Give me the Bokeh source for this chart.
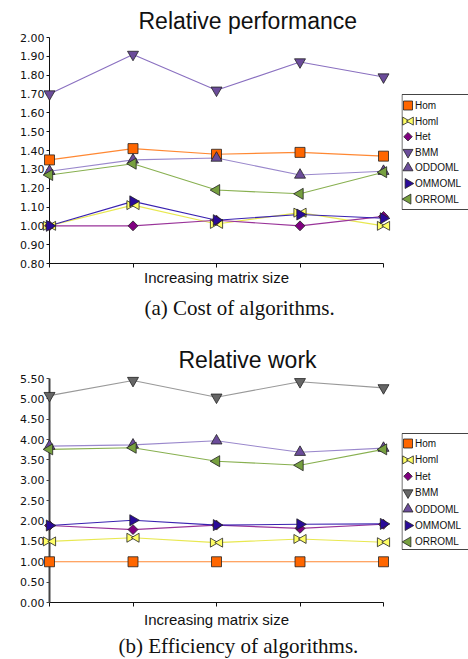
import math
from bokeh.plotting import figure
from bokeh.models import (Range1d, SingleIntervalTicker, NumeralTickFormatter, Title,
                          FixedTicker)
from bokeh.core.properties import value
from bokeh.layouts import column, row
from bokeh.embed import file_html
from bokeh.resources import INLINE

# ---------------- data ----------------
positions = [0, 1, 2, 3, 4]          # increasing matrix size (unlabelled)
series = ["Hom", "Homl", "Het", "BMM", "ODDOML", "OMMOML", "ORROML"]

perf_hom    = [1.35, 1.41, 1.38, 1.39, 1.37]
perf_homl   = [1.00, 1.11, 1.01, 1.07, 1.00]
perf_het    = [1.00, 1.00, 1.03, 1.00, 1.05]
perf_bmm    = [1.70, 1.91, 1.72, 1.87, 1.79]
perf_oddoml = [1.29, 1.35, 1.36, 1.27, 1.29]
perf_ommoml = [1.00, 1.13, 1.03, 1.06, 1.04]
perf_orroml = [1.27, 1.33, 1.19, 1.17, 1.285]

work_hom    = [1.00, 1.00, 1.00, 1.00, 1.00]
work_homl   = [1.50, 1.59, 1.47, 1.56, 1.48]
work_het    = [1.89, 1.79, 1.90, 1.82, 1.92]
work_bmm    = [5.08, 5.45, 5.04, 5.42, 5.27]
work_oddoml = [3.84, 3.87, 3.97, 3.69, 3.79]
work_ommoml = [1.89, 2.02, 1.90, 1.92, 1.93]
work_orroml = [3.76, 3.80, 3.47, 3.37, 3.76]

# ---------------- styles ----------------
OUT = "#222222"
style = {
    "Hom":    dict(line="#FF8833", fill="#FF6600", marker="square", angle=0.0, size=10),
    "Homl":   dict(line="#E8E850", fill="#FFFF66", marker="bowtie", angle=0.0, size=9),
    "Het":    dict(line="#993399", fill="#800080", marker="square", angle=math.pi / 4, size=7),
    "BMM":    dict(line="#8A70C0", fill="#6B4C9A", marker="inverted_triangle", angle=0.0, size=11),
    "ODDOML": dict(line="#9A88CC", fill="#6B4C9A", marker="triangle", angle=0.0, size=11),
    "OMMOML": dict(line="#3A22B0", fill="#2A0A99", marker="triangle", angle=-math.pi / 2, size=11),
    "ORROML": dict(line="#88B050", fill="#77A040", marker="triangle", angle=math.pi / 2, size=11),
}

FRAME_L, FRAME_W, MAIN_W, LEG_W = 49, 334, 401, 67
BOW_PX = 3.5   # half spacing of the two bow-tie triangles, in pixels


def add_markers(p, st, xs, ys, dx, level):
    if st["marker"] == "bowtie":
        p.scatter([x - dx for x in xs], ys, marker="triangle", angle=-math.pi / 2,
                  size=st["size"], fill_color=st["fill"], line_color=OUT, line_width=0.8,
                  level=level)
        p.scatter([x + dx for x in xs], ys, marker="triangle", angle=math.pi / 2,
                  size=st["size"], fill_color=st["fill"], line_color=OUT, line_width=0.8,
                  level=level)
    else:
        p.scatter(xs, ys, marker=st["marker"], angle=st["angle"], size=st["size"],
                  fill_color=st["fill"], line_color=OUT, line_width=0.8, level=level)


def make_fig(title, caption, xlabel, yr, interval, data, height, top, bottom,
             title_standoff, title_offset, cap_offset, bmm_line, bmm_fill,
             yaxis_color, yaxis_width, cap_standoff, xlab_standoff):
    p = figure(width=MAIN_W, height=height, x_range=Range1d(0, 4), y_range=Range1d(*yr),
               output_backend="svg", toolbar_location=None,
               min_border_left=FRAME_L, min_border_right=MAIN_W - FRAME_L - FRAME_W,
               min_border_top=top, min_border_bottom=bottom)
    p.grid.visible = False
    p.outline_line_color = None
    p.background_fill_color = "white"
    p.border_fill_color = "white"

    p.title.text = title
    p.title.align = "left"
    p.title.offset = title_offset
    p.title.text_font = "Liberation Sans"
    p.title.text_font_size = "23px"
    p.title.text_font_style = "normal"
    p.title.text_color = "#111111"
    p.title.standoff = title_standoff

    xa = p.xaxis[0]
    xa.ticker = FixedTicker(ticks=positions)
    xa.major_label_overrides = {i: "" for i in positions}
    xa.major_label_text_font_size = "8px"
    xa.major_label_standoff = 0
    xa.major_tick_out = 4
    xa.major_tick_in = 0
    xa.minor_tick_out = 0
    xa.minor_tick_in = 0
    xa.axis_line_color = "#111111"
    xa.axis_line_width = 1
    xa.major_tick_line_color = "#111111"
    xa.axis_label = xlabel
    xa.axis_label_text_font = "Liberation Sans"
    xa.axis_label_text_font_size = "15px"
    xa.axis_label_text_font_style = "normal"
    xa.axis_label_text_color = "#111111"
    xa.axis_label_standoff = xlab_standoff

    ya = p.yaxis[0]
    ya.ticker = SingleIntervalTicker(interval=interval, num_minor_ticks=0)
    ya.formatter = NumeralTickFormatter(format="0.00")
    ya.major_tick_out = 3
    ya.major_tick_in = 0
    ya.minor_tick_out = 0
    ya.minor_tick_in = 0
    ya.major_label_standoff = 2
    ya.major_label_text_font = "DejaVu Sans"
    ya.major_label_text_font_size = "11px"
    ya.major_label_text_color = "#111111"
    ya.axis_line_color = yaxis_color
    ya.axis_line_width = yaxis_width
    ya.major_tick_line_color = yaxis_color

    p.add_layout(Title(text=caption, align="left", offset=cap_offset,
                       text_font="Liberation Serif", text_font_size="21px",
                       text_font_style="normal", text_color="#111111",
                       standoff=cap_standoff), "below")

    dx = BOW_PX * 4 / FRAME_W
    for name in series:
        st = dict(style[name])
        if name == "BMM":
            st["line"], st["fill"] = bmm_line, bmm_fill
        vals = data[name]
        p.line(positions, vals, line_color=st["line"], line_width=1.1)
        add_markers(p, st, positions, vals, dx, "overlay")
    return p


def make_legend(height, top, bottom, box_top, box_bottom, first, pitch, bmm_fill):
    # frame identical to the main chart's frame; y measured in pixels from the figure top
    q = figure(width=LEG_W, height=height, x_range=Range1d(0, LEG_W),
               y_range=Range1d(height - bottom, top), output_backend="svg",
               toolbar_location=None, x_axis_location=None, y_axis_location=None,
               min_border_left=0, min_border_right=0, min_border_top=top,
               min_border_bottom=bottom)
    q.grid.visible = False
    q.outline_line_color = None
    q.background_fill_color = "white"
    q.border_fill_color = "white"
    q.quad(left=[0.5], right=[LEG_W + 5], top=[box_top], bottom=[box_bottom],
           fill_color="white", line_color="#444444", line_width=1)
    ys = [first + i * pitch for i in range(len(series))]
    for name, y in zip(series, ys):
        st = dict(style[name])
        if name == "BMM":
            st["fill"] = bmm_fill
        st["size"] = st["size"] - 1
        add_markers(q, st, [6.5], [y], BOW_PX - 0.5, "glyph")
    q.text(x=[13.5] * len(series), y=ys, text=series, text_font=value("Liberation Sans"),
           text_font_size=value("10px"), text_baseline="middle", text_align="left",
           text_color="#111111")
    return q


perf = {"Hom": perf_hom, "Homl": perf_homl, "Het": perf_het, "BMM": perf_bmm,
        "ODDOML": perf_oddoml, "OMMOML": perf_ommoml, "ORROML": perf_orroml}
work = {"Hom": work_hom, "Homl": work_homl, "Het": work_het, "BMM": work_bmm,
        "ODDOML": work_oddoml, "OMMOML": work_ommoml, "ORROML": work_orroml}

H1, H2 = 330, 329
T1, B1, T2, B2 = 37, 67, 48, 57
p1 = make_fig("Relative performance", "(a) Cost of algorithms.", "Increasing matrix size",
              (0.8, 2.0), 0.1, perf, H1, T1, B1, 7, 89, 95, "#8A70C0", "#6B4C9A",
              "#111111", 1, 10, 1)
p2 = make_fig("Relative work", "(b) Efficiency of algorithms.", "Increasing matrix size",
              (0.0, 5.5), 0.5, work, H2, T2, B2, 12, 129, 69, "#999999", "#666666",
              "#444444", 2, 2, 4)
l1 = make_legend(H1, T1, B1, 94, 209, 105, 15.6, "#6B4C9A")
l2 = make_legend(H2, T2, B2, 433 - H1, 549 - H1, 443 - H1, 16.4, "#666666")

layout = column(row(p1, l1, spacing=0), row(p2, l2, spacing=0), spacing=0)
open("out.html", "w").write(file_html(layout, INLINE))
